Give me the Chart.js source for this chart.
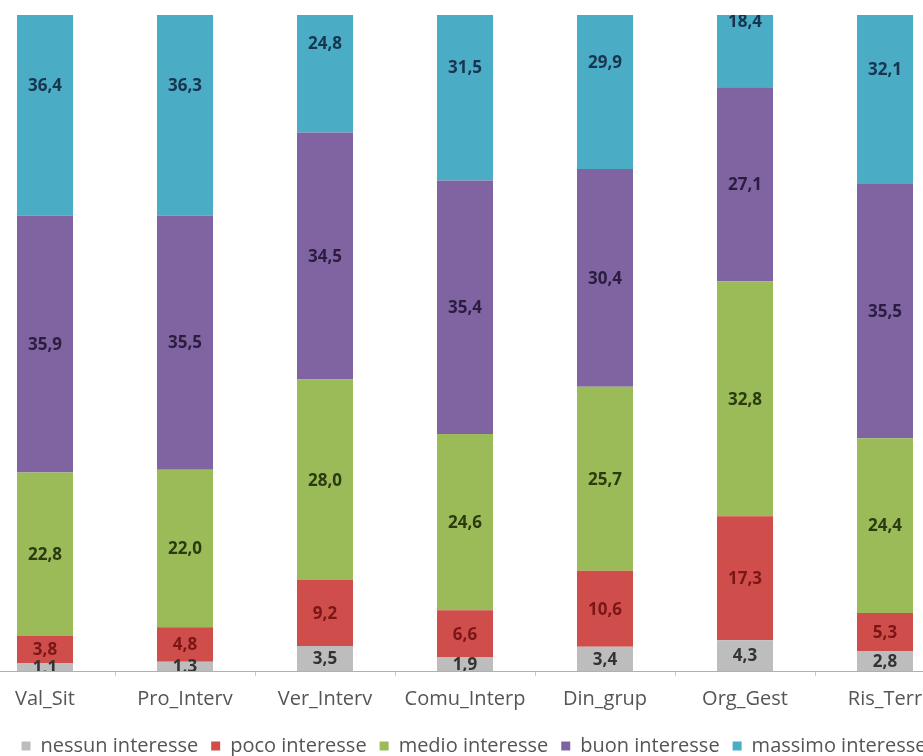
<!DOCTYPE html>
<html>
<head>
<meta charset="utf-8">
<script src="https://cdn.jsdelivr.net/npm/chart.js@4.4.1/dist/chart.umd.min.js"></script>
<style>
    html, body { margin: 0; padding: 0; background: #fff; overflow: hidden; }
    #frame { position: relative; width: 923px; height: 756px; overflow: hidden; }
    #wrap { position: absolute; left: -25px; top: 0; width: 980px; height: 766px; }
</style>
</head>
<body>
<div id="frame"><div id="wrap"><canvas id="interesseChart"></canvas></div></div>
<script>
// Percentuali per modulo
const categories = ['Val_Sit', 'Pro_Interv', 'Ver_Interv', 'Comu_Interp', 'Din_grup', 'Org_Gest', 'Ris_Terr'];
const seriesNames = ['nessun interesse', 'poco interesse', 'medio interesse', 'buon interesse', 'massimo interesse'];
const nessun  = [1.1, 1.3, 3.5, 1.9, 3.4, 4.3, 2.8];
const poco    = [3.8, 4.8, 9.2, 6.6, 10.6, 17.3, 5.3];
const medio   = [22.8, 22.0, 28.0, 24.6, 25.7, 32.8, 24.4];
const buon    = [35.9, 35.5, 34.5, 35.4, 30.4, 27.1, 35.5];
const massimo = [36.4, 36.3, 24.8, 31.5, 29.9, 18.4, 32.1];

const fillColors  = ['#bdbdbd', '#cf4e4b', '#9bbb59', '#8064a2', '#4bacc6'];
const labelColors = ['#333333', '#7a1616', '#2c3a10', '#2a1d40', '#17354f'];

function formatNumber(num) {
    return num.toFixed(1).replace('.', ',');
}

// Etichette centrate su ogni segmento della colonna
const segmentLabels = {
    id: 'segmentLabels',
    afterLayout(chart) {
        // legenda leggermente spostata a destra
        chart.legend.left += 9;
        chart.legend.right += 9;
    },
    afterDatasetsDraw(chart) {
        const { ctx, chartArea, scales } = chart;
        ctx.save();
        ctx.beginPath();
        ctx.rect(chartArea.left, chartArea.top, chartArea.right - chartArea.left, chartArea.bottom - chartArea.top);
        ctx.clip();
        ctx.font = 'bold 17px "Open Sans"';
        ctx.textAlign = 'center';
        ctx.textBaseline = 'middle';
        categories.forEach((cat, i) => {
            let base = 0;
            chart.data.datasets.forEach((ds, d) => {
                const v = ds.data[i];
                const y = scales.y.getPixelForValue(base + v / 2);
                const x = scales.x.getPixelForValue(i);
                ctx.fillStyle = labelColors[d];
                ctx.fillText(formatNumber(v), x, y + 1);
                base += v;
            });
        });
        ctx.restore();
    }
};

const ctx = document.getElementById('interesseChart').getContext('2d');
const chart = new Chart(ctx, {
    type: 'bar',
    data: {
        labels: categories,
        datasets: [nessun, poco, medio, buon, massimo].map((vals, d) => ({
            label: seriesNames[d],
            data: vals,
            backgroundColor: fillColors[d],
            borderWidth: 0,
            categoryPercentage: 1,
            barPercentage: 0.4
        }))
    },
    options: {
        responsive: true,
        maintainAspectRatio: false,
        animation: false,
        layout: { padding: { top: 15, left: 0, right: 0, bottom: 0 } },
        plugins: {
            legend: {
                position: 'bottom',
                labels: {
                    boxWidth: 9,
                    boxHeight: 9,
                    padding: 13,
                    color: '#555',
                    font: { family: 'Open Sans', size: 20 }
                }
            },
            tooltip: { enabled: false }
        },
        scales: {
            x: {
                stacked: true,
                afterFit: (scale) => { scale.height = 52; },
                grid: { drawOnChartArea: false, drawTicks: true, tickLength: 5, color: '#c8c8c8' },
                border: { display: true, color: '#b0b0b0' },
                ticks: { color: '#555', font: { family: 'Open Sans', size: 20 }, padding: 11 }
            },
            y: {
                stacked: true,
                display: false,
                min: 0,
                max: 91.6
            }
        }
    },
    plugins: [segmentLabels]
});
</script>
</body>
</html>
